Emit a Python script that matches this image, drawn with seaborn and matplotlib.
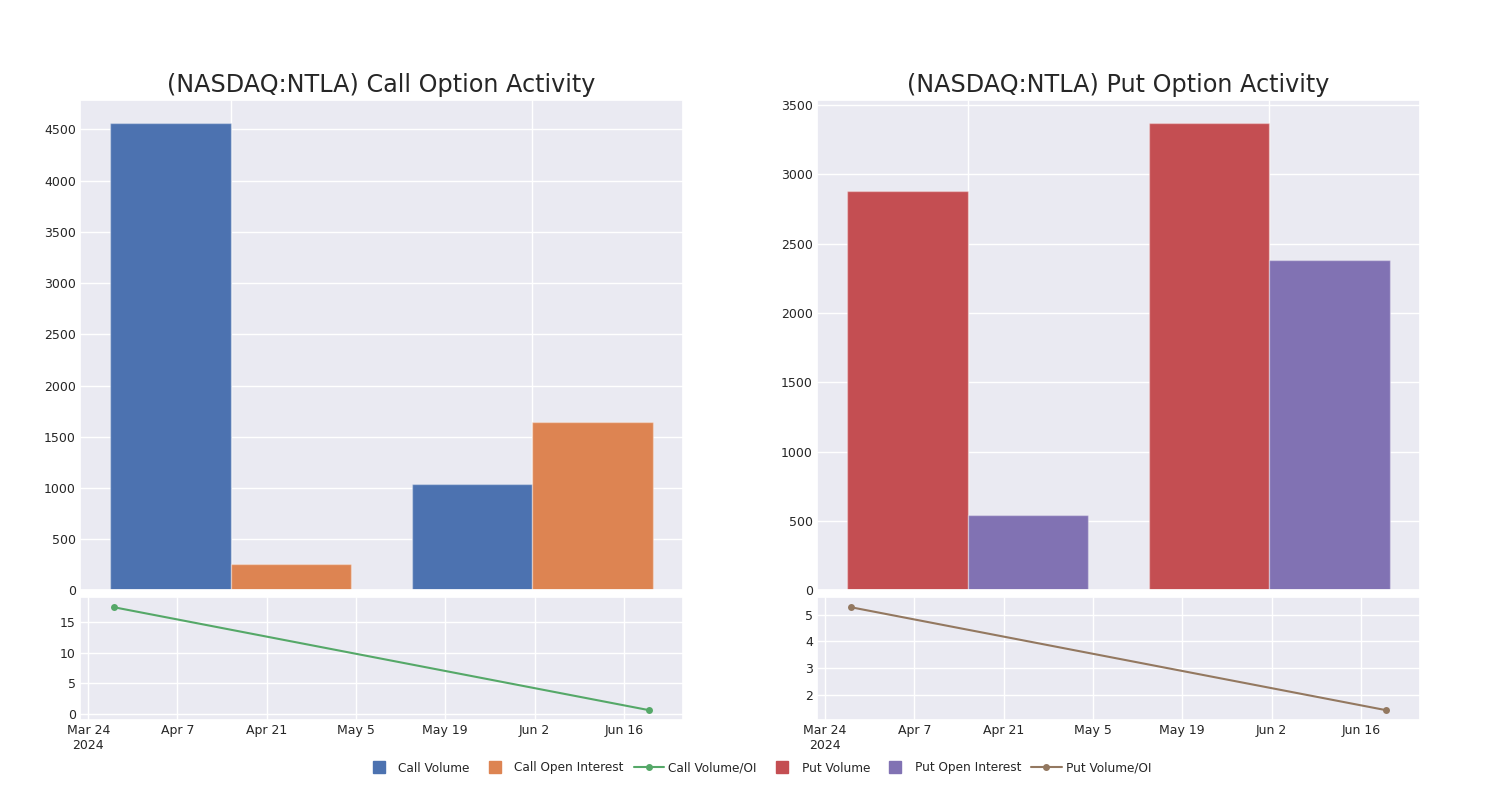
import matplotlib
matplotlib.use("Agg")
import matplotlib.pyplot as plt
from matplotlib.lines import Line2D
from matplotlib.ticker import MultipleLocator
import pandas as pd
import seaborn as sns

TICKER = "NASDAQ:NTLA"
DATES = ["2024-03-28", "2024-06-20"]

CALL_VOLUME = [4560, 1040]
CALL_OI = [256, 1647]
CALL_RATIO = [17.45, 0.63]

PUT_VOLUME = [2877, 3368]
PUT_OI = [543, 2385]
PUT_RATIO = [5.28, 1.41]

TICK_DATES = ["2024-03-24", "2024-04-07", "2024-04-21", "2024-05-05",
              "2024-05-19", "2024-06-02", "2024-06-16"]
TICK_LABELS = ["Mar 24\n2024", "Apr 7", "Apr 21", "May 5", "May 19", "Jun 2", "Jun 16"]

sns.set_theme(style="darkgrid")
plt.rcParams["font.family"] = ["DejaVu Sans"]
deep = sns.color_palette("deep")
CALL_COLORS = [deep[0], deep[1], deep[2]]
PUT_COLORS = [deep[3], deep[4], deep[5]]


def draw_side(ax_bar, ax_line, kind, volume, oi, ratio, colors, ratio_step):
    df = pd.DataFrame({
        "date": DATES * 2,
        "value": volume + oi,
        "type": [f"{kind} Volume"] * 2 + [f"{kind} Open Interest"] * 2,
    })
    sns.barplot(data=df, x="date", y="value", hue="type", palette=colors[:2],
                ax=ax_bar, legend=False, saturation=1,
                edgecolor=(1, 1, 1, 0.35), linewidth=1)
    ax_bar.set_title(f"({TICKER}) {kind} Option Activity", fontsize=17.2)
    ax_bar.set_xlabel("")
    ax_bar.set_ylabel("")
    ax_bar.set_xticklabels([])
    ax_bar.grid(True, axis="both")
    ax_bar.yaxis.set_major_locator(MultipleLocator(500))
    ax_bar.tick_params(axis="both", length=0, pad=3, labelsize=9)

    # volume / open interest ratio
    line_df = pd.DataFrame({"date": pd.to_datetime(DATES), "ratio": ratio})
    sns.lineplot(data=line_df, x="date", y="ratio", color=colors[2], marker="o",
                 markersize=5, markeredgewidth=0, linewidth=1.5, ax=ax_line)
    ax_line.margins(x=0.063, y=0.095)
    ax_line.set_xticks(pd.to_datetime(TICK_DATES))
    ax_line.set_xticklabels(TICK_LABELS)
    ax_line.yaxis.set_major_locator(MultipleLocator(ratio_step))
    ax_line.set_xlabel("")
    ax_line.set_ylabel("")
    ax_line.tick_params(length=0, pad=3, labelsize=9)


fig = plt.figure(figsize=(15, 8), dpi=100)
gs = fig.add_gridspec(2, 2, height_ratios=[4, 1], left=0.0533, right=0.9467,
                      top=0.875, bottom=0.1, hspace=0.023, wspace=0.222)

draw_side(fig.add_subplot(gs[0, 0]), fig.add_subplot(gs[1, 0]),
          "Call", CALL_VOLUME, CALL_OI, CALL_RATIO, CALL_COLORS, 5)
draw_side(fig.add_subplot(gs[0, 1]), fig.add_subplot(gs[1, 1]),
          "Put", PUT_VOLUME, PUT_OI, PUT_RATIO, PUT_COLORS, 1)

handles = []
labels = []
for kind, colors in [("Call", CALL_COLORS), ("Put", PUT_COLORS)]:
    handles.append(Line2D([], [], marker="s", linestyle="none", color=colors[0], markersize=8))
    handles.append(Line2D([], [], marker="s", linestyle="none", color=colors[1], markersize=8))
    handles.append(Line2D([], [], marker="o", color=colors[2], markersize=4, linewidth=1.5))
    labels += [f"{kind} Volume", f"{kind} Open Interest", f"{kind} Volume/OI"]

fig.legend(handles, labels, loc="center", bbox_to_anchor=(0.505, 0.04), ncol=6,
           frameon=False, fontsize=8.7, columnspacing=0.85, handletextpad=0.35,
           handlelength=2.5)

fig.savefig("out.png", dpi=100)
